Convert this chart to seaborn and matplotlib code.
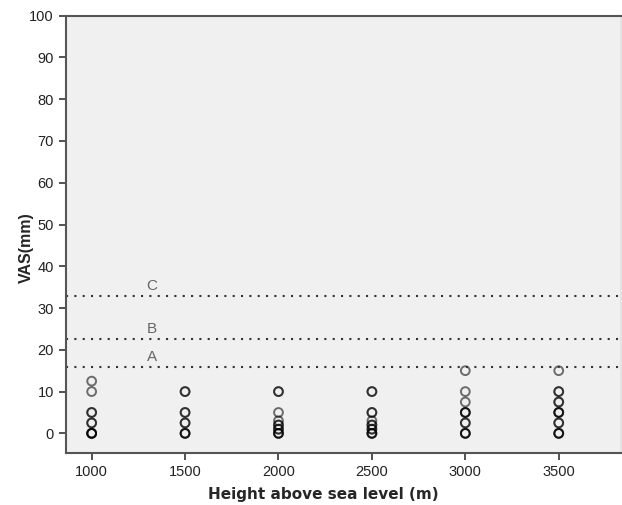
import numpy as np
import pandas as pd
import matplotlib
matplotlib.use('Agg')
import matplotlib.pyplot as plt
import seaborn as sns

sns.set_style('white')
plt.rcParams['font.family'] = ['Liberation Sans', 'DejaVu Sans']

# VAS readings (mm) per altitude, repeated values drawn on top of each other
vas_1000 = [0, 0, 0, 0, 2.5, 2.5, 5, 5, 10, 12.5]
vas_1500 = [0, 0, 0, 2.5, 2.5, 5, 5, 10, 10]
vas_2000 = [0, 0, 0, 1, 1, 2, 2, 3, 5, 10, 10]
vas_2500 = [0, 0, 0, 1, 1, 2, 2, 3, 5, 5, 10, 10]
vas_3000 = [0, 0, 0, 2.5, 2.5, 5, 5, 5, 7.5, 10, 15]
vas_3500 = [0, 0, 0, 2.5, 2.5, 5, 5, 5, 7.5, 7.5, 10, 10, 15]
heights = [1000, 1500, 2000, 2500, 3000, 3500]

# reference lines
ref_labels = ['A', 'B', 'C']
ref_values = [16.0, 22.7, 33.0]

rows = []
for h, vals in zip(heights, [vas_1000, vas_1500, vas_2000, vas_2500, vas_3000, vas_3500]):
    for v in vals:
        rows.append({'height': h, 'vas': v})
df = pd.DataFrame(rows)

fig = plt.figure(figsize=(6.22, 5.05), dpi=100)
ax = fig.add_axes([0.1056, 0.103, 0.893, 0.866])
ax.set_facecolor('#f0f0f0')

sns.scatterplot(data=df, x='height', y='vas', ax=ax, marker='o', s=40,
                facecolors='none', edgecolor='black', linewidth=1.4, alpha=0.55)

for lab, val in zip(ref_labels, ref_values):
    ax.axhline(val, color='#333333', linestyle=(0, (1, 3)), linewidth=1.5, zorder=1)
    ax.text(1323, val + 0.6, lab, color='#666666', fontsize=11, ha='center', va='bottom')

ax.set_xlim(861, 3834)
ax.set_ylim(-4.7, 100)
ax.set_xticks(heights)
ax.set_yticks(np.arange(0, 101, 10))
ax.tick_params(axis='both', direction='out', length=5, width=1.2, color='#333333',
               labelsize=10.5, labelcolor='#222222', left=True, bottom=True)

for sp in ax.spines.values():
    sp.set_color('#555555')
    sp.set_linewidth(1.5)
ax.spines['right'].set_color('#e4e4e4')

ax.set_xlabel('Height above sea level (m)', fontsize=11, fontweight='bold',
              family=['DejaVu Sans'], va='center')
ax.set_ylabel('VAS(mm)', fontsize=11.5, fontweight='bold', va='center')
ax.xaxis.set_label_coords(0.463, -0.094)
ax.yaxis.set_label_coords(-0.0715, 0.469)

fig.savefig('out.png', dpi=100)
